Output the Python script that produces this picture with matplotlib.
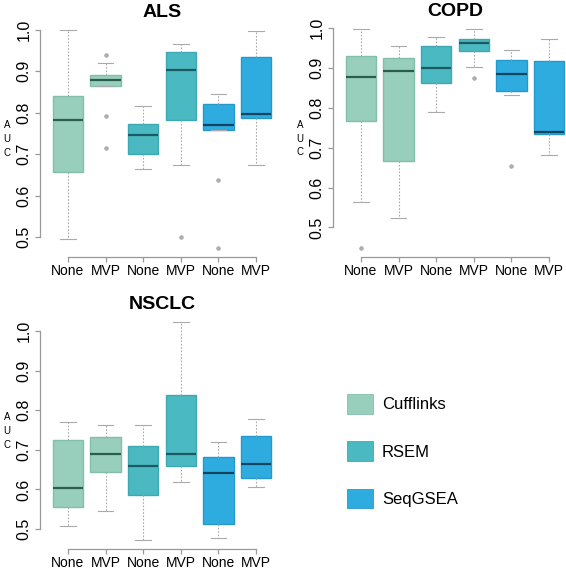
import matplotlib
matplotlib.use("Agg")
import matplotlib.pyplot as plt
from matplotlib.patches import Patch

plt.rcParams.update({"font.family": ["Liberation Sans", "DejaVu Sans"]})

METHODS  = ["Cufflinks", "RSEM", "SeqGSEA"]
XLABELS  = ["None", "MVP", "None", "MVP", "None", "MVP"]
BOX_METH = [0, 0, 1, 1, 2, 2]          # method index of each box
FILL     = ["#98cfbc", "#4bb9c2", "#2facdf"]
EDGE     = ["#82bfaa", "#3ea9b2", "#2699cc"]
MEDCOL   = ["#2b5c4f", "#1b5a61", "#0f4563"]

# summary stats: whisker lo, q1, median, q3, whisker hi, outliers
ALS_LO  = [0.495, 0.864, 0.664, 0.673, 0.758, 0.673]
ALS_Q1  = [0.656, 0.864, 0.700, 0.782, 0.758, 0.786]
ALS_MED = [0.782, 0.879, 0.746, 0.903, 0.770, 0.797]
ALS_Q3  = [0.840, 0.891, 0.773, 0.947, 0.820, 0.934]
ALS_HI  = [1.000, 0.920, 0.816, 0.965, 0.844, 0.996]
ALS_OUT = [[], [0.939, 0.793, 0.716], [], [0.500], [0.637, 0.473], []]

COPD_LO  = [0.565, 0.524, 0.789, 0.901, 0.832, 0.681]
COPD_Q1  = [0.766, 0.667, 0.861, 0.942, 0.842, 0.735]
COPD_MED = [0.876, 0.892, 0.900, 0.962, 0.884, 0.740]
COPD_Q3  = [0.930, 0.924, 0.955, 0.972, 0.921, 0.917]
COPD_HI  = [0.997, 0.954, 0.978, 0.998, 0.945, 0.972]
COPD_OUT = [[0.448], [], [], [0.875], [0.655], []]

NSCLC_LO  = [0.509, 0.546, 0.472, 0.618, 0.478, 0.606]
NSCLC_Q1  = [0.555, 0.643, 0.586, 0.658, 0.514, 0.629]
NSCLC_MED = [0.605, 0.690, 0.658, 0.689, 0.641, 0.664]
NSCLC_Q3  = [0.724, 0.732, 0.709, 0.838, 0.681, 0.735]
NSCLC_HI  = [0.771, 0.763, 0.763, 1.023, 0.721, 0.778]
NSCLC_OUT = [[], [], [], [], [], []]

YTICKS = [0.5, 0.6, 0.7, 0.8, 0.9, 1.0]
AX_COL = "#999999"

W, H = 566, 571
fig = plt.figure(figsize=(W / 100, H / 100), dpi=100)

def px_rect(l, t, r, b):
    return [l / W, 1 - b / H, (r - l) / W, (b - t) / H]

def panel(rect, title, lo, q1, med, q3, hi, out):
    ax = fig.add_axes(rect)
    stats = [dict(whislo=a, q1=b, med=c, q3=d, whishi=e, fliers=f)
             for a, b, c, d, e, f in zip(lo, q1, med, q3, hi, out)]
    pos = list(range(1, len(stats) + 1))
    bp = ax.bxp(stats, positions=pos, widths=0.8, capwidths=0.42, patch_artist=True,
                whiskerprops=dict(color="#aaaaaa", lw=0.8, ls=(0, (1.5, 1.5))),
                capprops=dict(color="#aaaaaa", lw=0.8),
                flierprops=dict(marker="o", ms=2.6, mfc="#b0b0b0", mec="#a0a0a0", mew=0.5))
    for i, m in enumerate(BOX_METH):
        bp["boxes"][i].set(facecolor=FILL[m], edgecolor=EDGE[m], lw=1.0)
        bp["medians"][i].set(color=MEDCOL[m], lw=1.6)
    vals = lo + hi + [v for f in out for v in f]
    r = max(vals) - min(vals)
    ax.set_ylim(min(vals) - 0.04 * r, max(vals) + 0.04 * r)
    ax.set_xlim(0.5 - 0.24, 6.5 + 0.24)
    for s in ["top", "right"]:
        ax.spines[s].set_visible(False)
    ax.spines["left"].set_bounds(YTICKS[0], YTICKS[-1])
    ax.spines["bottom"].set_bounds(pos[0], pos[-1])
    for s in ["left", "bottom"]:
        ax.spines[s].set_color(AX_COL)
        ax.spines[s].set_linewidth(0.9)
    ax.set_yticks(YTICKS)
    ax.set_yticklabels([f"{v:.1f}" for v in YTICKS], rotation=90, va="center")
    ax.set_xticks(pos)
    ax.set_xticklabels(XLABELS)
    ax.tick_params(axis="y", length=3.5, width=0.9, color=AX_COL, labelsize=11.5, pad=2.5)
    ax.tick_params(axis="x", length=3.5, width=0.9, color=AX_COL, labelsize=10, pad=1.5)
    ax.set_title(title, fontsize=14, fontweight="bold", pad=1)
    ax.set_ylabel("A\nU\nC", rotation=0, fontsize=7, linespacing=1.45, va="center")
    ax.yaxis.set_label_coords(-0.135, 0.5)
    return ax

panel(px_rect(40, 21, 284, 257), "ALS", ALS_LO, ALS_Q1, ALS_MED, ALS_Q3, ALS_HI, ALS_OUT)
panel(px_rect(333, 20, 577, 257), "COPD", COPD_LO, COPD_Q1, COPD_MED, COPD_Q3, COPD_HI, COPD_OUT)
panel(px_rect(40, 313, 284, 549), "NSCLC", NSCLC_LO, NSCLC_Q1, NSCLC_MED, NSCLC_Q3, NSCLC_HI, NSCLC_OUT)

handles = [Patch(facecolor=FILL[i], edgecolor=EDGE[i], lw=0.6) for i in range(len(METHODS))]
fig.legend(handles, METHODS, loc="upper left", bbox_to_anchor=(347 / W, 1 - 394 / H),
           frameon=False, fontsize=12, handlelength=1.55, handleheight=1.45,
           handletextpad=0.55, labelspacing=1.65, borderpad=0, borderaxespad=0)

fig.savefig("out.png", dpi=100)
